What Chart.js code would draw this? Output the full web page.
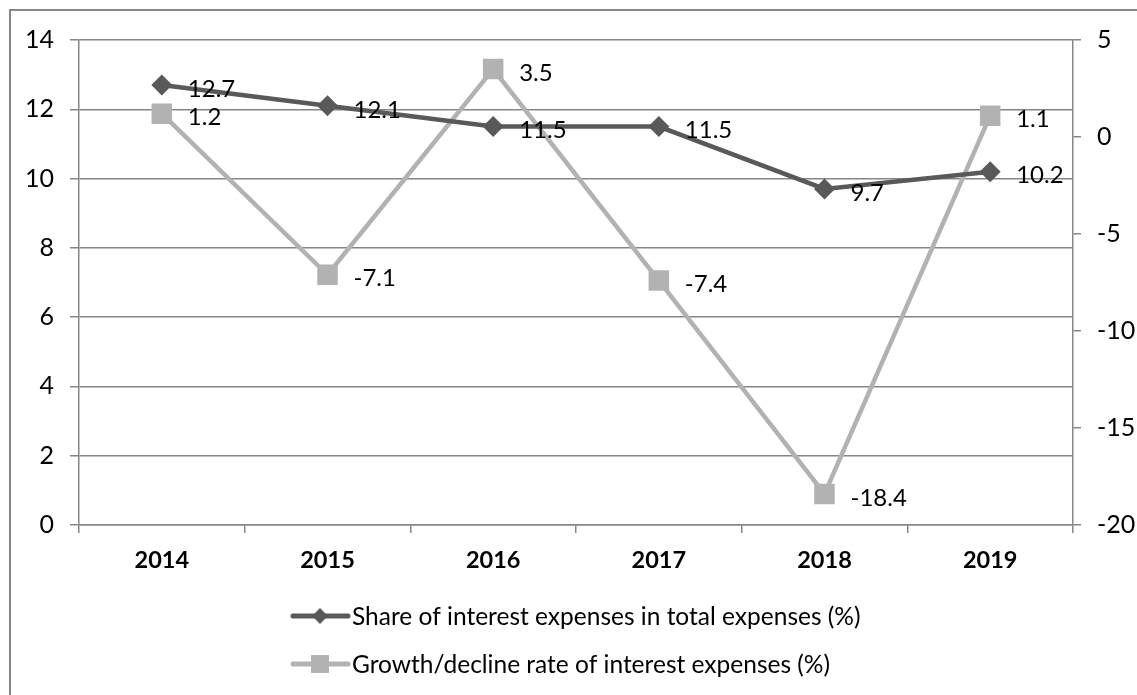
<!DOCTYPE html>
<html>
<head>
<meta charset="utf-8">
<script src="https://cdn.jsdelivr.net/npm/chart.js@4.4.0/dist/chart.umd.min.js"></script>
<style>
  html, body { margin: 0; padding: 0; background: #fff; }
  #wrap { width: 1137px; height: 695px; position: relative; }
</style>
</head>
<body>
<div id="wrap"><canvas id="chart"></canvas></div>
<script>
const years = ['2014', '2015', '2016', '2017', '2018', '2019'];
const shareLabel = 'Share of interest expenses in total expenses (%)';
const shareValues = [12.7, 12.1, 11.5, 11.5, 9.7, 10.2];
const rateLabel = 'Growth/decline rate of interest expenses (%)';
const rateValues = [1.2, -7.1, 3.5, -7.4, -18.4, 1.1];

const FONT = 'Lato';
const GRID = '#868686';
const DARK = '#595959';
const LIGHT = '#b2b2b2';

// outer frame of the chart object
const framePlugin = {
  id: 'frame',
  beforeDraw(chart) {
    const ctx = chart.ctx;
    ctx.save();
    ctx.fillStyle = '#fff';
    ctx.fillRect(0, 0, chart.width, chart.height);
    ctx.strokeStyle = GRID;
    ctx.lineWidth = 2;
    ctx.strokeRect(10, 10, chart.width + 50, chart.height + 50);
    ctx.restore();
  }
};

// value labels to the right of each point
const valueLabels = {
  id: 'valueLabels',
  afterDatasetsDraw(chart) {
    const ctx = chart.ctx;
    ctx.save();
    ctx.font = '24px ' + FONT;
    ctx.fillStyle = '#000';
    ctx.textAlign = 'left';
    ctx.textBaseline = 'middle';
    chart.data.datasets.forEach((ds, i) => {
      chart.getDatasetMeta(i).data.forEach((pt, j) => {
        ctx.fillText(ds.data[j].toFixed(1), pt.x + 26, pt.y + 4);
      });
    });
    ctx.restore();
  }
};

// two-row legend: line + marker + text
const legendRows = {
  id: 'legendRows',
  afterDraw(chart) {
    const ctx = chart.ctx;
    const left = 293, rowY = [616, 664];
    ctx.save();
    chart.data.datasets.forEach((ds, i) => {
      const y = rowY[i];
      ctx.strokeStyle = ds.borderColor;
      ctx.lineWidth = 5;
      ctx.lineCap = 'round';
      ctx.beginPath();
      ctx.moveTo(left, y);
      ctx.lineTo(left + 55, y);
      ctx.stroke();
      ctx.fillStyle = ds.borderColor;
      const cx = left + 27;
      if (ds.pointStyle === 'rectRot') {
        ctx.beginPath();
        ctx.moveTo(cx - 8, y);
        ctx.lineTo(cx, y - 8);
        ctx.lineTo(cx + 8, y);
        ctx.lineTo(cx, y + 8);
        ctx.closePath();
        ctx.fill();
      } else {
        ctx.fillRect(cx - 9, y - 9, 18, 18);
      }
      ctx.fillStyle = '#000';
      ctx.font = '24.5px ' + FONT;
      ctx.textAlign = 'left';
      ctx.textBaseline = 'middle';
      ctx.fillText(ds.label, left + 59, y + 1);
    });
    ctx.restore();
  }
};

new Chart(document.getElementById('chart'), {
  type: 'line',
  data: {
    labels: years,
    datasets: [
      {
        label: shareLabel,
        data: shareValues,
        yAxisID: 'y',
        borderColor: DARK,
        backgroundColor: DARK,
        borderWidth: 4.5,
        pointStyle: 'rectRot',
        pointRadius: 10.5,
        pointBorderWidth: 0,
        tension: 0
      },
      {
        label: rateLabel,
        data: rateValues,
        yAxisID: 'y1',
        borderColor: LIGHT,
        backgroundColor: LIGHT,
        borderWidth: 4.5,
        pointStyle: 'rect',
        pointRadius: 14.5,
        pointBorderWidth: 0,
        tension: 0
      }
    ]
  },
  options: {
    responsive: true,
    maintainAspectRatio: false,
    animation: false,
    layout: { padding: { top: 40, bottom: 110, left: 0, right: 0 } },
    plugins: {
      legend: { display: false },
      tooltip: { enabled: false }
    },
    scales: {
      x: {
        offset: true,
        grid: { offset: true, drawOnChartArea: false, drawTicks: true, tickLength: 8, color: GRID, lineWidth: 1.5 },
        border: { color: GRID, width: 1.5 },
        ticks: { color: '#000', padding: 13, font: { family: FONT, size: 23.5, weight: 'bold' }, maxRotation: 0 },
        afterFit: s => { s.height = 60; }
      },
      y: {
        position: 'left',
        min: 0,
        max: 14,
        ticks: { stepSize: 2, color: '#000', padding: 16, font: { family: FONT, size: 25 } },
        grid: { color: GRID, lineWidth: 1.5, tickLength: 9 },
        border: { color: GRID, width: 1.5 },
        afterFit: s => { s.width = 79; }
      },
      y1: {
        position: 'right',
        min: -20,
        max: 5,
        ticks: { stepSize: 5, color: '#000', padding: 16, font: { family: FONT, size: 25 } },
        grid: { drawOnChartArea: false, color: GRID, lineWidth: 1.5, tickLength: 8 },
        border: { color: GRID, width: 1.5 },
        afterFit: s => { s.width = 64; }
      }
    }
  },
  plugins: [framePlugin, valueLabels, legendRows]
});
</script>
</body>
</html>
